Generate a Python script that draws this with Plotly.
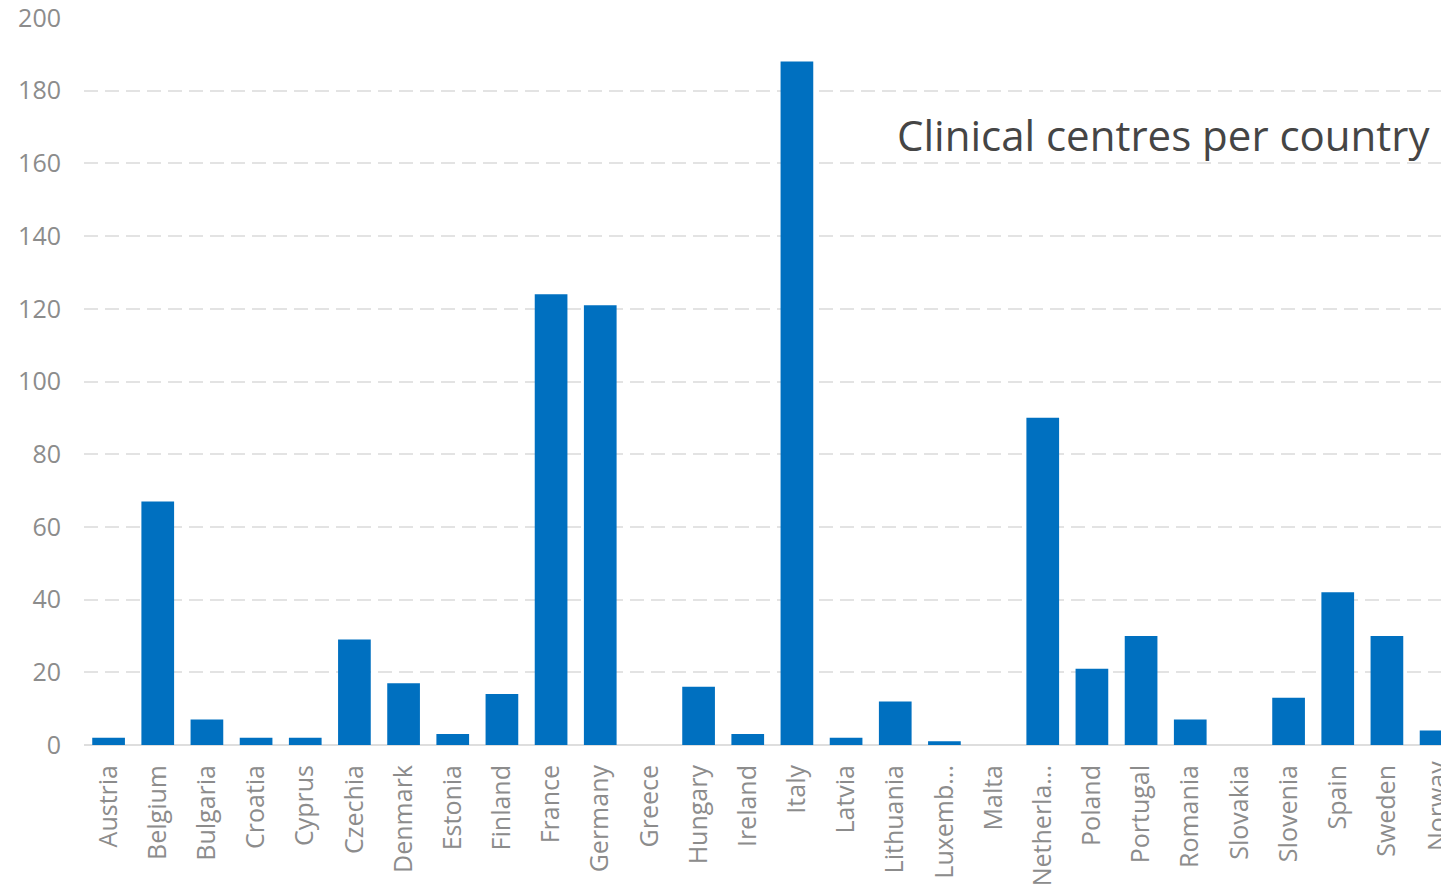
import plotly.graph_objects as go

countries = [
    "Austria", "Belgium", "Bulgaria", "Croatia", "Cyprus", "Czechia", "Denmark",
    "Estonia", "Finland", "France", "Germany", "Greece", "Hungary", "Ireland",
    "Italy", "Latvia", "Lithuania", "Luxemb...", "Malta", "Netherla...", "Poland",
    "Portugal", "Romania", "Slovakia", "Slovenia", "Spain", "Sweden", "Norway",
]
centres = [
    2, 67, 7, 2, 2, 29, 17,
    3, 14, 124, 121, 0, 16, 3,
    188, 2, 12, 1, 0, 90, 21,
    30, 7, 0, 13, 42, 30, 4,
]
y_ticks = [0, 20, 40, 60, 80, 100, 120, 140, 160, 180, 200]

FONT = "Open Sans"
LABEL_GREY = "#8c8c8c"
LABEL_SIZE = 25
X_MIN, X_MAX = -0.5, 27.1

fig = go.Figure(
    go.Bar(
        x=list(range(len(countries))),
        y=centres,
        marker=dict(color="#0070C0", line=dict(width=0)),
        hoverinfo="skip",
    )
)

# category labels that fall past the right edge of the x range are still
# drawn (and cut by the page edge) as paper-positioned annotations
edge_labels = []
for i, name in enumerate(countries):
    if i + 0.5 > X_MAX:
        edge_labels.append(
            dict(
                text=name,
                xref="paper", yref="paper",
                x=(i - X_MIN) / (X_MAX - X_MIN), y=0,
                xanchor="center", yanchor="top",
                yshift=-14,
                textangle=-90,
                showarrow=False,
                font=dict(family=FONT, size=LABEL_SIZE, color=LABEL_GREY),
            )
        )

fig.update_layout(
    width=1441,
    height=887,
    margin=dict(l=84, r=0, t=18, b=142, autoexpand=False),
    paper_bgcolor="white",
    plot_bgcolor="white",
    bargap=0.335,
    showlegend=False,
    font=dict(family=FONT, color=LABEL_GREY, size=LABEL_SIZE),
    annotations=[
        dict(
            text="Clinical centres per country",
            xref="paper", yref="paper",
            x=(1432 - 84) / (1441 - 84), y=(745 - 135) / 727,
            xanchor="right", yanchor="middle",
            showarrow=False,
            font=dict(family=FONT, size=42, color="#454545"),
        )
    ] + edge_labels,
)

fig.update_xaxes(
    range=[X_MIN, X_MAX],
    automargin=False,
    tickmode="array",
    tickvals=list(range(len(countries))),
    ticktext=countries,
    tickangle=-90,
    showgrid=False,
    showline=False,
    zeroline=False,
    ticks="",
    ticklabelstandoff=14,
    tickfont=dict(family=FONT, size=LABEL_SIZE, color=LABEL_GREY),
)

fig.update_yaxes(
    range=[0, 200],
    automargin=False,
    ticklabeloverflow="allow",
    tickmode="array",
    tickvals=y_ticks,
    showgrid=True,
    gridcolor="#e3e3e3",
    gridwidth=2,
    griddash="14px,7px",
    zeroline=True,
    zerolinecolor="#dedede",
    zerolinewidth=2,
    showline=False,
    ticks="",
    ticklabelstandoff=22,
    tickfont=dict(family=FONT, size=LABEL_SIZE, color=LABEL_GREY),
)

fig.write_html("out.html")
